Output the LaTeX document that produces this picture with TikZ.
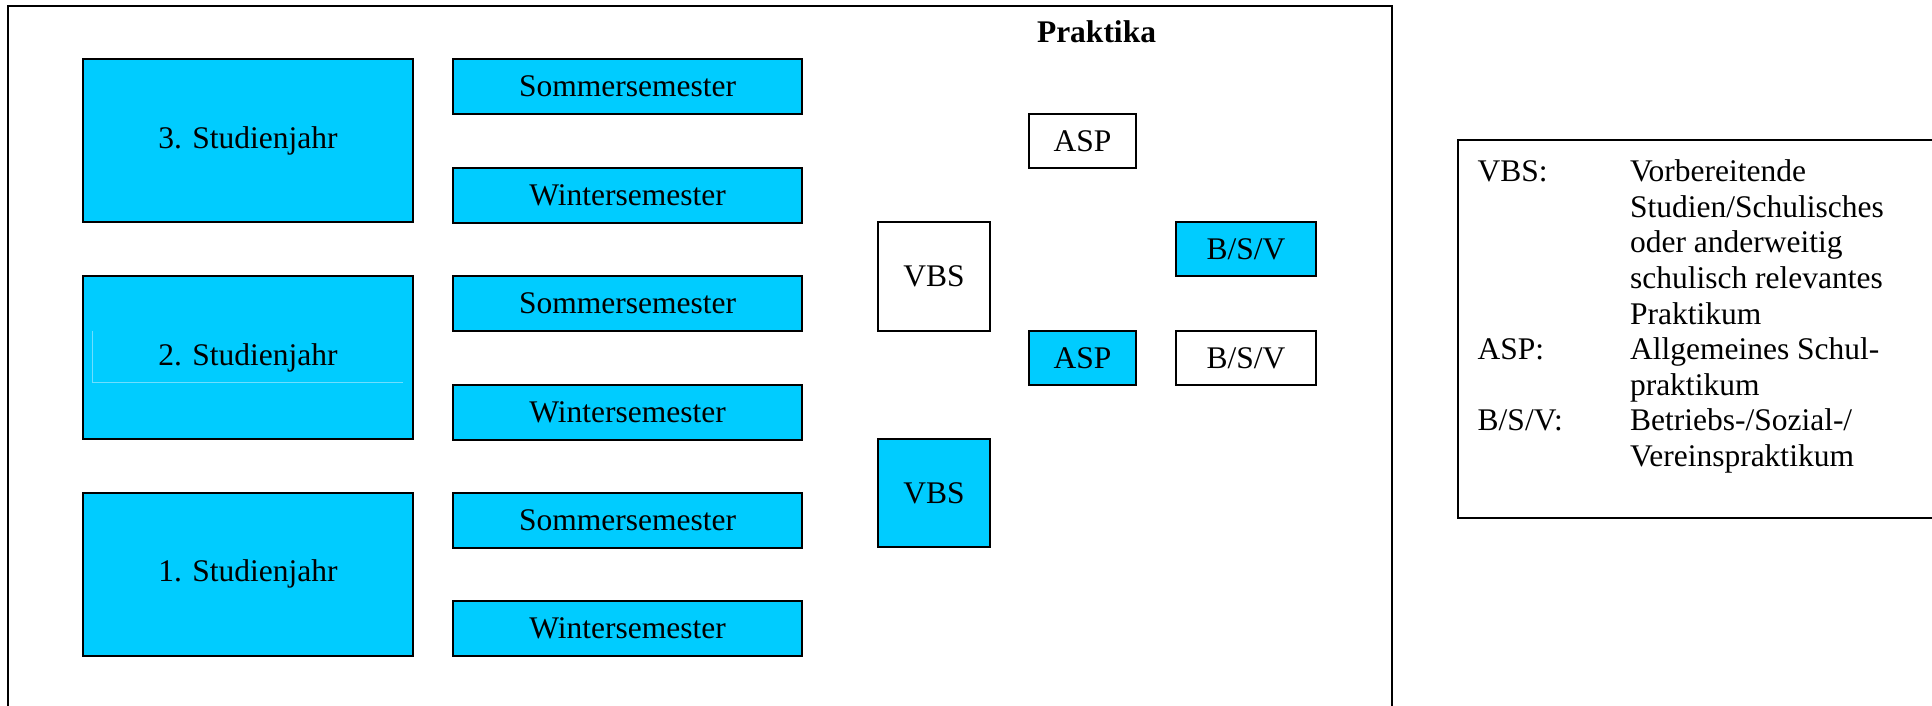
\documentclass[tikz,border=0pt]{standalone}
\usepackage{fontspec}
\setmainfont{Liberation Serif}
\definecolor{boxcyan}{RGB}{0,204,255}
\definecolor{faintcyan}{RGB}{110,222,255}
\begin{document}
\begin{tikzpicture}[x=1pt,y=-1pt,
  every node/.style={font=\fontsize{31.5}{35.6}\selectfont, inner sep=0pt, outer sep=0pt},
  bluebox/.style={draw=black, line width=2pt, fill=boxcyan, rectangle},
  whitebox/.style={draw=black, line width=2pt, fill=white, rectangle},
  yearbox/.style={bluebox, minimum width=330pt, minimum height=163pt},
  sembox/.style={bluebox, minimum width=349pt, minimum height=55pt},
  frame/.style={draw=black, line width=2pt},
  legtext/.style={anchor=base west}]
\useasboundingbox (0,0) rectangle (1932,706);
% outer frame
\draw[frame] (8,712) -- (8,6) -- (1392,6) -- (1392,712);
% years
\node[yearbox] (y3) at (248,140.5) {3. Studienjahr};
\node[yearbox] (y2) at (248,357.5) {};
\draw[faintcyan, line width=0.7pt] (92.7,330.7) -- (92.7,382.7) -- (403,382.7);
\node (y2t) at (248,357.5) {2. Studienjahr};
\node[yearbox] (y1) at (248,574) {1. Studienjahr};
% semesters
\node[sembox] (s3) at (627.5,86.5) {Sommersemester};
\node[sembox] (w3) at (627.5,195) {Wintersemester};
\node[sembox] (s2) at (627.5,303.5) {Sommersemester};
\node[sembox] (w2) at (627.5,412) {Wintersemester};
\node[sembox] (s1) at (627.5,520) {Sommersemester};
\node[sembox] (w1) at (627.5,628) {Wintersemester};
% Praktika
\node[anchor=base] (prak) at (1096.5,43) {\bfseries Praktika};
\node[whitebox, minimum width=107pt, minimum height=54.5pt] (asp1) at (1082.5,141) {ASP};
\node[whitebox, minimum width=112pt, minimum height=109pt] (vbs1) at (934,276.5) {VBS};
\node[bluebox, minimum width=140.5pt, minimum height=54pt] (bsv1) at (1246,249) {B/S/V};
\node[bluebox, minimum width=107pt, minimum height=54pt] (asp2) at (1082.5,358) {ASP};
\node[whitebox, minimum width=140.5pt, minimum height=54pt] (bsv2) at (1246,358) {B/S/V};
\node[bluebox, minimum width=112pt, minimum height=108pt] (vbs2) at (934,493) {VBS};
% legend
\draw[frame] (1940,140.5) -- (1457.5,140.5) -- (1457.5,517.5) -- (1940,517.5);
\node[legtext] (k1) at (1477.7,181.7) {VBS:};
\node[legtext] (d1) at (1630,181.7) {Vorbereitende};
\node[legtext] (d2) at (1630,217.3) {Studien/Schulisches};
\node[legtext] (d3) at (1630,252.9) {oder anderweitig};
\node[legtext] (d4) at (1630,288.5) {schulisch relevantes};
\node[legtext] (d5) at (1630,324.1) {Praktikum};
\node[legtext] (k2) at (1477.7,359.7) {ASP:};
\node[legtext] (d6) at (1630,359.7) {Allgemeines Schul-};
\node[legtext] (d7) at (1630,395.3) {praktikum};
\node[legtext] (k3) at (1477.7,430.9) {B/S/V:};
\node[legtext] (d8) at (1630,430.9) {Betriebs-/Sozial-/};
\node[legtext] (d9) at (1630,466.5) {Vereinspraktikum};
\end{tikzpicture}
\end{document}
